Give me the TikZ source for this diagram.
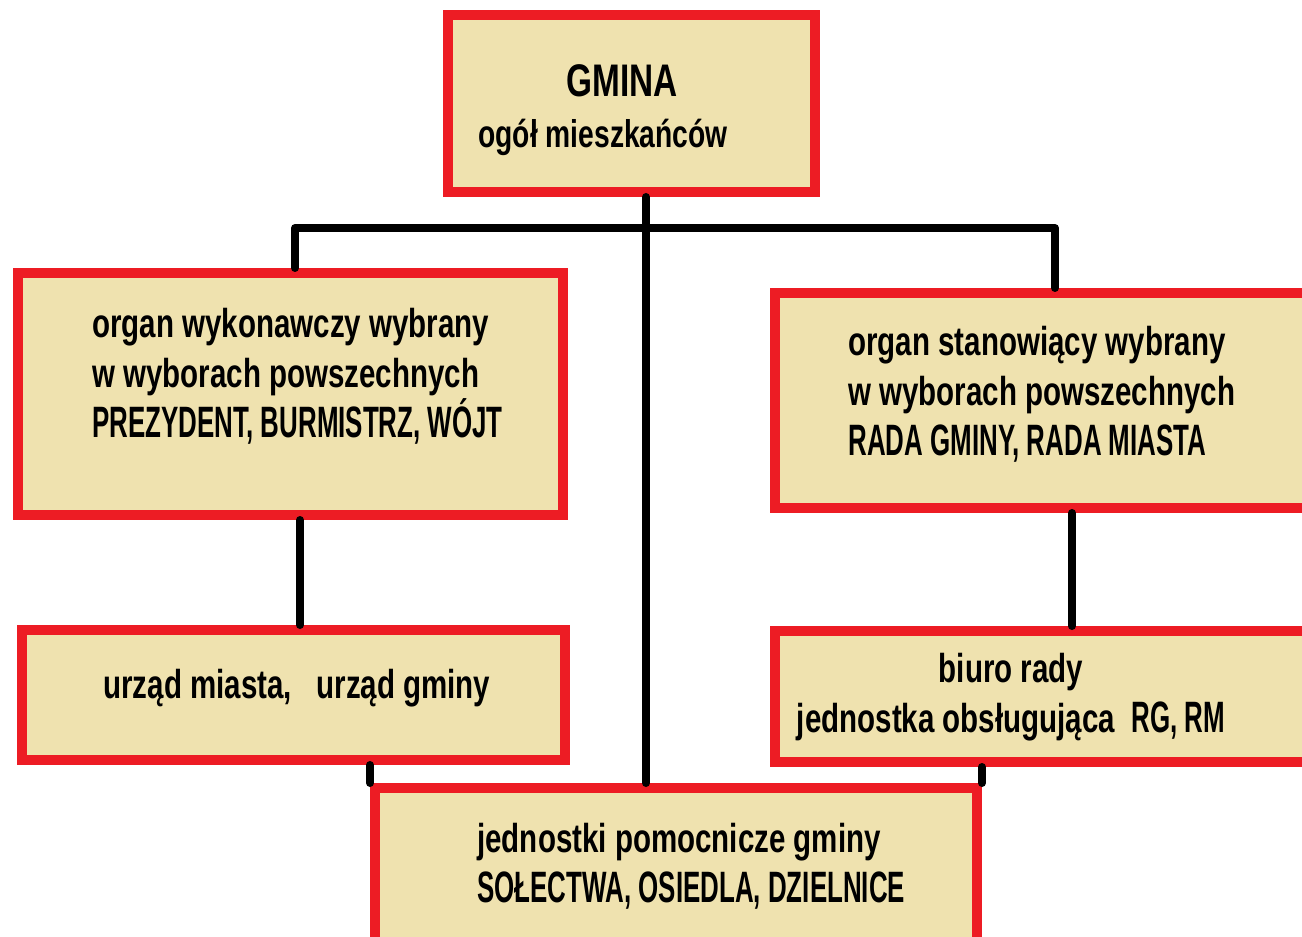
\documentclass[tikz,border=0pt]{standalone}
\usepackage{fontspec}
\setmainfont[FakeStretch=0.73]{Liberation Sans}
\newfontfamily\wersaliki[FakeStretch=0.59]{Liberation Sans}
\newcommand{\wer}[1]{{\wersaliki\fontsize{25}{28.45}\selectfont #1}}
\usepackage{tikz}
\usetikzlibrary{positioning, calc}
\definecolor{ramka}{RGB}{237,28,36}
\definecolor{tlo}{RGB}{239,226,175}
\tikzstyle{box} = [rectangle, draw=ramka, fill=tlo, line width=0.2cm, inner sep=0pt]
\tikzstyle{txt} = [inner sep=0pt, align=left, anchor=base west, font=\fontsize{23}{28.45}\selectfont\bfseries]
\tikzstyle{link} = [line width=0.16cm, line cap=round, line join=round, draw=black]

\begin{document}
\begin{tikzpicture}
  \useasboundingbox (0,0) rectangle (26.04,-18.74);
  \clip (0,0) rectangle (26.04,-18.74);

  % Rząd 1
  \node[box, minimum width=7.34cm, minimum height=3.54cm] (gmina) at (12.63,-2.07) {};

  % Rząd 2 (organy)
  \node[box, minimum width=10.90cm, minimum height=4.84cm] (wyk) at (5.81,-7.88) {};
  \node[box, minimum width=10.90cm, minimum height=4.30cm] (sta) at (20.95,-8.01) {};

  % Rząd 3 (urząd i biuro)
  \node[box, minimum width=10.86cm, minimum height=2.60cm] (urz) at (5.87,-13.90) {};
  \node[box, minimum width=10.90cm, minimum height=2.62cm] (biu) at (20.95,-13.93) {};

  % Rząd 4
  \node[box, minimum width=12.04cm, minimum height=3.44cm] (jpg) at (13.52,-17.48) {};

  % Teksty (kotwica = linia bazowa ostatniego wiersza)
  \node[txt, anchor=base, font=\fontsize{26}{30}\selectfont\bfseries] (gmina_t) at (12.44,-1.94) {GMINA};
  \node[txt, font=\fontsize{22}{28}\selectfont\bfseries] (gmina_o) at (9.56,-2.96) {ogół mieszkańców};
  \node[txt] (wyk_t) at (1.84,-8.74) {organ wykonawczy wybrany\\w wyborach powszechnych\\\wer{PREZYDENT, BURMISTRZ, WÓJT}};
  \node[txt] (sta_t) at (16.96,-9.10) {organ stanowiący wybrany\\w wyborach powszechnych\\\wer{RADA GMINY, RADA MIASTA}};
  \node[txt] (urz_t) at (2.06,-13.96) {urząd miasta,\ \ \ urząd gminy};
  \node[txt, anchor=base, align=center] (biu_t) at (20.22,-14.64) {biuro rady\\jednostka obsługująca\ \ \wer{RG, RM}};
  \node[txt] (jpg_t) at (9.54,-18.04) {jednostki pomocnicze gminy\\\wer{SOŁECTWA, OSIEDLA, DZIELNICE}};

  % Punkty pomocnicze
  \coordinate (lewy) at (5.90,-4.56);
  \coordinate (prawy) at (21.10,-4.56);
  \coordinate (pien) at (12.92,-4.56);

  % Linie
  \draw[link] (wyk.north -| lewy) -- (lewy) -- (prawy) -- (sta.north -| prawy);
  \draw[link] (gmina.south -| pien) -- (jpg.north -| pien);
  \draw[link] ($(wyk.south)+(0.19,0)$) -- ($(urz.north)+(0.13,0)$);
  \draw[link] ($(sta.south)+(0.49,0)$) -- ($(biu.north)+(0.49,0)$);
  \draw[link] (urz.south -| jpg.north west) -- (jpg.north west);
  \draw[link] (biu.south -| jpg.north east) -- (jpg.north east);
\end{tikzpicture}
\end{document}
